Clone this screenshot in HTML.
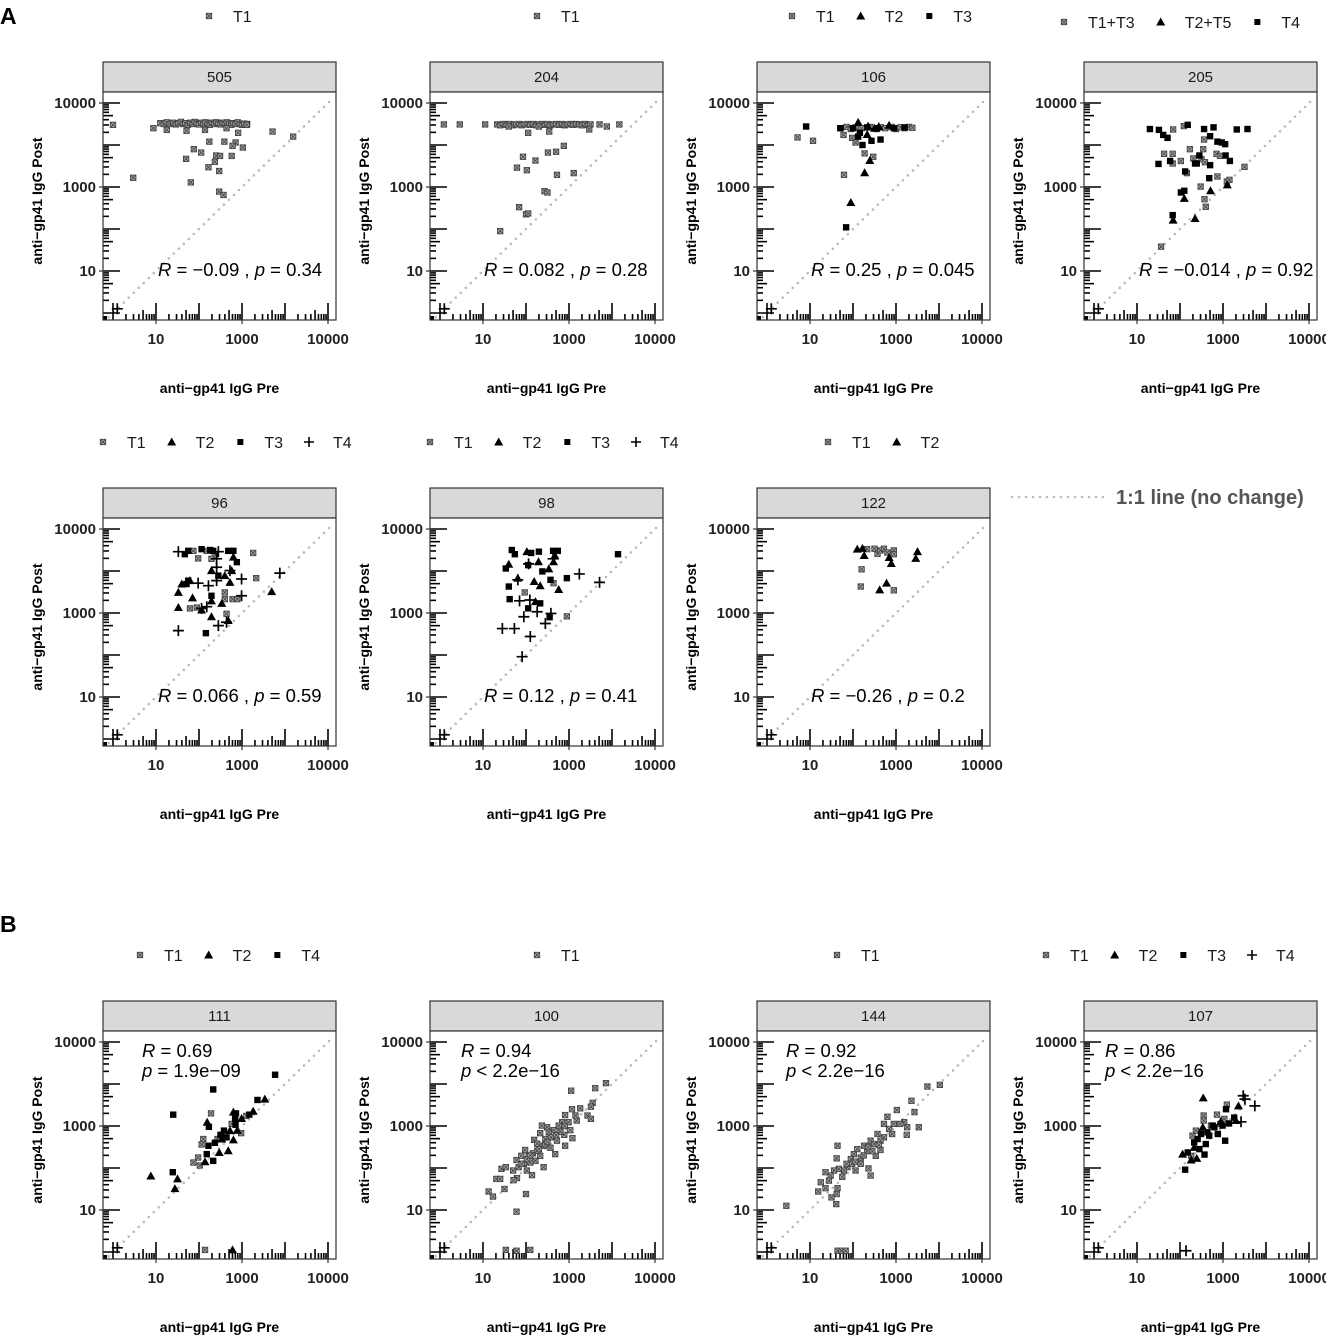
<!DOCTYPE html>
<html><head><meta charset="utf-8">
<style>
html,body{margin:0;padding:0;background:#fff;}
svg{display:block;font-family:"Liberation Sans",Arial,sans-serif;}
</style></head>
<body>
<svg id="fig" width="1326" height="1336" viewBox="0 0 1326 1336" xmlns="http://www.w3.org/2000/svg">
<text x="0" y="24" font-size="23" font-weight="bold">A</text>
<text x="0" y="932" font-size="23" font-weight="bold">B</text>
<g>
<line x1="1012" y1="497" x2="1106" y2="497" stroke="#bbb" stroke-width="2.6" stroke-linecap="round" stroke-dasharray="0 7"/>
<text x="1116" y="504" font-size="20" font-weight="bold" fill="#555">1:1 line (no change)</text>
</g>
</svg>
<script>
// ---- axis ticks (log units) ----
const xTickVals = [1, 3, 5];
const xTickLabels = ['10', '1000', '10000'];
const yTickVals = [1, 3, 5];
const yTickLabels = ['10', '1000', '10000'];
const cornerPoint = [0.1, 0.1];

// ---- data: [log pre, log post] ----
const d505_T1 = [[1.1,4.52],[1.18,4.5],[1.25,4.54],[1.32,4.5],[1.4,4.53],[1.46,4.49],[1.52,4.52],[1.58,4.55],[1.63,4.5],[1.68,4.52],[1.74,4.48],[1.8,4.53],[1.85,4.5],[1.9,4.55],[1.95,4.51],[2.0,4.49],[2.05,4.53],[2.1,4.5],[2.15,4.54],[2.2,4.51],[2.25,4.48],[2.3,4.53],[2.35,4.5],[2.4,4.54],[2.45,4.51],[2.5,4.49],[2.55,4.53],[2.6,4.5],[2.65,4.54],[2.7,4.51],[2.75,4.48],[2.8,4.52],[2.85,4.5],[2.9,4.54],[2.95,4.5],[3.0,4.48],[3.05,4.51],[3.12,4.5],[0.0,4.48],[0.94,4.4],[2.91,4.29],[3.71,4.32],[4.19,4.2],[2.24,4.08],[2.59,4.08],[2.85,4.06],[3.02,3.94],[2.78,3.98],[1.88,3.9],[2.05,3.82],[1.7,3.67],[2.4,3.75],[2.49,3.74],[2.37,3.6],[2.76,3.74],[2.22,3.47],[2.47,3.38],[0.47,3.22],[1.81,3.11],[2.47,2.89],[2.57,2.81],[1.25,4.36],[1.71,4.34],[2.14,4.36],[2.64,4.4],[3.11,4.48]];
const d204_T1 = [[0.09,4.49],[0.46,4.49],[1.05,4.49],[1.33,4.49],[1.4,4.47],[1.48,4.5],[1.55,4.48],[1.62,4.5],[1.7,4.47],[1.77,4.49],[1.84,4.5],[1.9,4.47],[1.97,4.49],[2.04,4.5],[2.1,4.48],[2.17,4.5],[2.24,4.47],[2.3,4.49],[2.37,4.5],[2.44,4.48],[2.5,4.5],[2.57,4.47],[2.64,4.49],[2.7,4.5],[2.77,4.48],[2.84,4.5],[2.9,4.47],[2.97,4.49],[3.04,4.5],[3.1,4.48],[3.17,4.5],[3.24,4.49],[3.3,4.47],[3.37,4.5],[3.44,4.48],[3.5,4.49],[3.71,4.49],[3.88,4.44],[4.17,4.49],[2.05,4.29],[2.54,4.32],[3.47,4.37],[2.88,3.98],[2.51,3.82],[2.7,3.84],[1.93,3.72],[2.22,3.63],[1.79,3.46],[2.02,3.4],[2.72,3.29],[3.11,3.33],[2.43,2.9],[2.5,2.87],[1.84,2.52],[2.0,2.35],[2.05,2.37],[1.4,1.95],[1.6,4.44],[2.3,4.44]];
const d106_T1 = [[0.71,4.18],[1.07,4.1],[1.78,4.24],[1.98,4.17],[2.06,4.06],[2.27,3.8],[2.47,3.72],[1.79,3.29],[1.7,4.4],[1.85,4.43],[1.95,4.38],[2.05,4.42],[2.2,4.4],[2.4,4.43],[2.55,4.38],[2.65,4.42],[2.75,4.4],[2.9,4.43],[3.0,4.38],[3.1,4.42],[3.2,4.4],[3.3,4.43],[3.38,4.41]];
const d106_T2 = [[2.33,4.25],[2.39,3.63],[2.27,3.34],[1.95,2.63],[2.12,4.54],[2.35,4.45],[2.84,4.47],[2.5,4.4],[2.6,4.44]];
const d106_T3 = [[0.91,4.44],[2.12,4.2],[2.43,4.1],[2.64,4.13],[2.22,4.0],[1.84,2.04],[1.71,4.4],[2.16,4.29],[2.33,4.42],[2.56,4.4],[2.0,4.4],[2.95,4.4],[3.2,4.42]];
const d205_T1 = [[1.84,4.37],[2.09,4.45],[1.63,3.79],[1.83,3.79],[2.23,3.9],[2.54,3.9],[2.56,4.13],[2.02,3.62],[1.83,3.56],[2.31,3.68],[2.5,3.66],[2.58,3.59],[2.85,3.79],[2.93,3.74],[2.87,3.25],[2.48,3.01],[3.09,3.13],[3.5,3.48],[2.16,3.33],[2.57,2.71],[2.6,2.53],[1.56,1.58],[3.15,3.17]];
const d205_T2 = [[2.1,2.73],[2.71,2.91],[3.1,3.05],[2.35,2.25],[1.84,2.21]];
const d205_T4 = [[1.3,4.38],[1.51,4.36],[1.61,4.24],[1.71,4.17],[2.18,4.48],[2.56,4.38],[2.78,4.42],[2.7,4.21],[2.87,4.08],[2.97,4.06],[3.05,4.02],[3.32,4.37],[3.57,4.38],[2.45,3.75],[3.06,3.75],[3.16,3.62],[1.5,3.55],[1.77,3.62],[2.35,3.56],[2.39,3.56],[2.7,3.52],[2.12,3.37],[2.68,3.21],[2.02,2.87],[2.1,2.91],[1.83,2.33]];
const d96_T1 = [[1.87,4.48],[1.98,4.3],[2.18,4.48],[2.37,4.39],[3.26,4.43],[3.33,3.83],[2.6,3.49],[2.6,3.33],[2.78,3.33],[2.89,3.33],[1.79,3.11],[1.95,3.13],[2.29,4.29],[2.64,2.98]];
const d96_T2 = [[1.6,3.69],[1.79,3.77],[2.29,4.01],[2.6,3.89],[2.76,4.01],[2.72,3.73],[1.52,3.49],[1.85,3.36],[2.06,3.07],[2.29,3.29],[2.53,3.23],[1.52,3.13],[2.29,2.91],[2.68,2.82],[3.69,3.51],[2.8,4.33]];
const d96_T3 = [[1.67,4.4],[1.75,4.48],[2.06,4.52],[2.26,4.5],[2.33,4.48],[2.68,4.48],[2.88,4.21],[2.45,3.89],[1.75,3.77],[1.71,3.69],[2.29,3.41],[2.16,2.52],[2.8,4.48]];
const d96_T4 = [[1.52,4.46],[2.45,4.46],[2.41,4.29],[2.41,4.09],[2.72,4.01],[2.99,3.81],[3.88,3.95],[1.98,3.71],[2.22,3.65],[2.41,3.77],[2.99,3.41],[2.18,3.15],[2.06,3.11],[2.45,2.7],[1.52,2.58],[2.64,2.78]];
const d98_T1 = [[2.64,3.71],[1.97,3.49],[2.95,2.92]];
const d98_T2 = [[2.02,4.46],[2.29,4.22],[2.64,4.22],[1.6,4.16],[1.81,3.83],[2.19,3.75],[2.33,3.65],[2.53,4.05],[2.76,3.56],[2.22,3.27],[2.67,4.37]];
const d98_T3 = [[1.67,4.5],[1.74,4.4],[2.12,4.43],[2.3,4.46],[2.63,4.48],[2.74,4.48],[1.53,4.06],[2.05,4.14],[2.38,3.99],[2.57,3.79],[2.95,3.83],[1.6,3.63],[1.62,3.33],[2.05,3.11],[2.33,3.23],[2.55,2.9],[4.14,4.4]];
const d98_T4 = [[2.06,4.17],[2.63,4.29],[1.81,3.79],[3.24,3.93],[3.71,3.73],[1.85,3.29],[2.09,3.31],[2.26,3.03],[1.95,2.91],[2.58,2.99],[2.45,2.75],[1.45,2.63],[1.73,2.63],[2.1,2.44],[1.91,1.96]];
const d122_T1 = [[2.33,4.52],[2.5,4.53],[2.57,4.41],[2.64,4.49],[2.72,4.53],[2.8,4.44],[2.95,4.49],[2.95,4.4],[2.2,4.04],[2.18,3.63],[2.95,3.54]];
const d122_T2 = [[2.1,4.52],[2.22,4.54],[2.26,4.37],[2.84,4.32],[2.89,4.18],[3.5,4.46],[3.46,4.3],[2.62,3.55],[2.78,3.71]];
const d111_T1 = [[2.28,3.3],[2.98,2.83],[2.1,2.69],[2.06,2.56],[1.98,2.25],[1.87,2.13],[2.02,2.06],[2.14,0.05],[2.76,3.05],[2.43,2.69],[3.1,3.24]];
const d111_T2 = [[3.53,3.64],[3.26,3.35],[2.99,3.18],[2.8,3.33],[2.19,3.09],[2.72,2.89],[2.8,2.67],[2.68,2.41],[2.47,2.37],[2.14,2.15],[0.88,1.81],[1.5,1.74],[1.44,1.51],[2.78,0.05],[2.53,2.69],[2.89,2.9]];
const d111_T4 = [[3.77,4.22],[2.33,3.87],[1.4,3.27],[3.36,3.62],[2.86,3.3],[2.84,3.17],[2.85,3.03],[2.58,2.89],[2.5,2.79],[2.37,2.6],[2.22,2.53],[2.18,2.33],[2.33,2.17],[1.39,1.9],[2.23,2.98],[3.17,3.27],[2.64,2.73]];
const d100_T1 = [[3.86,4.02],[3.61,3.9],[3.05,3.84],[3.55,3.55],[3.51,3.46],[3.26,3.42],[3.07,3.4],[3.43,3.25],[3.51,3.17],[2.91,3.26],[3.18,3.13],[2.99,3.09],[2.84,3.09],[3.03,2.9],[2.76,3.01],[2.64,2.9],[2.53,2.85],[2.33,2.83],[2.89,2.79],[3.08,2.71],[2.91,2.53],[2.72,2.65],[2.45,2.69],[2.19,2.67],[2.26,2.58],[2.41,2.53],[2.57,2.48],[2.68,2.33],[1.98,2.43],[2.06,2.29],[2.16,2.35],[2.33,2.29],[2.22,2.17],[2.1,2.13],[2.41,2.02],[1.95,2.1],[1.78,2.19],[2.02,1.94],[2.14,1.83],[1.83,2.02],[1.7,1.94],[1.43,1.98],[1.53,2.02],[1.79,1.76],[1.71,1.71],[1.31,1.74],[1.4,1.74],[1.5,1.5],[1.13,1.44],[1.23,1.32],[2.0,1.38],[1.78,0.96],[1.53,0.05],[1.78,0.03],[2.1,0.05],[2.45,2.56],[2.58,2.73],[2.8,2.86],[3.15,3.25],[1.89,2.29],[2.02,2.21],[2.26,2.41],[2.49,2.97],[2.37,3.01],[2.9,3.0],[2.7,2.78],[2.5,2.62],[2.3,2.45],[2.1,2.3],[1.9,2.1]];
const d144_T1 = [[4.02,3.98],[3.73,3.94],[3.36,3.6],[3.43,3.33],[3.02,3.38],[2.8,3.22],[3.19,3.09],[3.26,2.97],[3.53,2.97],[3.25,2.79],[2.95,3.05],[2.84,2.93],[2.72,2.73],[2.57,2.81],[2.41,2.65],[2.64,2.43],[2.53,2.29],[2.36,1.99],[2.41,1.82],[2.26,2.53],[2.1,2.45],[2.18,2.25],[2.02,2.33],[1.95,2.21],[2.06,1.94],[1.87,2.02],[1.79,1.94],[1.64,2.53],[1.62,2.23],[1.75,1.79],[1.67,1.98],[1.56,1.94],[1.48,1.82],[1.36,1.9],[1.44,1.7],[1.25,1.66],[1.36,1.52],[1.19,1.44],[1.64,1.52],[1.62,1.38],[1.5,1.3],[1.61,1.14],[0.45,1.1],[1.64,0.03],[1.73,0.03],[1.83,0.03],[2.33,2.41],[2.49,2.57],[2.18,2.1],[1.98,2.1],[2.64,2.65],[2.91,2.81],[3.1,3.05],[2.72,3.05],[2.45,2.4],[2.25,2.3],[2.05,2.15],[1.85,2.1],[2.6,2.55],[2.35,2.5]];
const d107_T1 = [[3.09,3.51],[2.86,3.27],[2.55,3.25],[2.55,3.13],[2.29,2.77],[2.37,2.89],[2.72,3.01],[2.94,3.05],[2.26,2.29],[3.03,3.17]];
const d107_T2 = [[2.54,3.67],[3.36,3.48],[2.06,2.33],[2.26,2.19],[2.39,2.23],[2.53,2.97],[2.95,3.11],[3.3,3.13],[2.33,2.49]];
const d107_T3 = [[3.07,3.4],[2.12,1.96],[3.05,2.65],[2.57,2.32],[2.76,3.01],[2.88,2.81],[2.99,3.01],[3.14,3.06],[3.26,3.2],[2.41,2.69],[2.6,2.57],[2.49,2.81],[2.68,2.77],[2.8,2.97],[2.33,2.61],[2.18,2.37],[2.45,2.45],[2.64,2.85]];
const d107_T4 = [[3.47,3.72],[3.51,3.64],[3.74,3.48],[3.42,3.1],[2.14,0.03]];

const svg = document.getElementById('fig');
const NS = 'http://www.w3.org/2000/svg';
function mk(tag, attrs, parent) {
  const e = document.createElementNS(NS, tag);
  for (const k in attrs) e.setAttribute(k, attrs[k]);
  (parent || svg).appendChild(e);
  return e;
}
function sym(g, shape, x, y) {
  if (shape === 'gray') {
    const s = mk('g', {}, g);
    mk('rect', {x: x-2.7, y: y-2.7, width: 5.4, height: 5.4, fill: '#a8a8a8', stroke: '#444', 'stroke-width': 0.9}, s);
    mk('path', {d: `M${x-2.7} ${y-2.7}L${x+2.7} ${y+2.7}M${x+2.7} ${y-2.7}L${x-2.7} ${y+2.7}`, stroke: '#444', 'stroke-width': 0.8}, s);
    return s;
  } else if (shape === 'tri') {
    return mk('polygon', {points: `${x},${y-4.5} ${x+4.5},${y+3.5} ${x-4.5},${y+3.5}`, fill: '#000'}, g);
  } else if (shape === 'sq') {
    return mk('rect', {x: x-3.2, y: y-3.2, width: 6.4, height: 6.4, fill: '#000'}, g);
  } else {
    return mk('path', {d: `M${x-5.5} ${y}H${x+5.5}M${x} ${y-5.5}V${y+5.5}`, stroke: '#000', 'stroke-width': 1.7}, g);
  }
}

const panels = [
  {id:'505', col:0,row:0, series:[['gray',d505_T1]], r:['−0.09','= 0.34'], rx:55, legend:{x:209,y:16,items:[['gray','T1']]}},
  {id:'204', col:1,row:0, series:[['gray',d204_T1]], r:['0.082','= 0.28'], rx:54, legend:{x:537,y:16,items:[['gray','T1']]}},
  {id:'106', col:2,row:0, series:[['gray',d106_T1],['tri',d106_T2],['sq',d106_T3]], r:['0.25','= 0.045'], rx:54, legend:{x:792,y:16,items:[['gray','T1'],['tri','T2'],['sq','T3']]}},
  {id:'205', col:3,row:0, series:[['gray',d205_T1],['tri',d205_T2],['sq',d205_T4]], r:['−0.014','= 0.92'], rx:55, legend:{x:1064,y:22,items:[['gray','T1+T3'],['tri','T2+T5'],['sq','T4']]}},
  {id:'96', col:0,row:1, series:[['gray',d96_T1],['tri',d96_T2],['sq',d96_T3],['plus',d96_T4]], r:['0.066','= 0.59'], rx:55, legend:{x:103,y:442,items:[['gray','T1'],['tri','T2'],['sq','T3'],['plus','T4']]}},
  {id:'98', col:1,row:1, series:[['gray',d98_T1],['tri',d98_T2],['sq',d98_T3],['plus',d98_T4]], r:['0.12','= 0.41'], rx:54, legend:{x:430,y:442,items:[['gray','T1'],['tri','T2'],['sq','T3'],['plus','T4']]}},
  {id:'122', col:2,row:1, series:[['gray',d122_T1],['tri',d122_T2]], r:['−0.26','= 0.2'], rx:54, legend:{x:828,y:442,items:[['gray','T1'],['tri','T2']]}},
  {id:'111', col:0,row:2, series:[['gray',d111_T1],['tri',d111_T2],['sq',d111_T4]], r2:['0.69','= 1.9e−09'], rx:39, legend:{x:140,y:955,items:[['gray','T1'],['tri','T2'],['sq','T4']]}},
  {id:'100', col:1,row:2, series:[['gray',d100_T1]], r2:['0.94','< 2.2e−16'], rx:31, legend:{x:537,y:955,items:[['gray','T1']]}},
  {id:'144', col:2,row:2, series:[['gray',d144_T1]], r2:['0.92','< 2.2e−16'], rx:29, legend:{x:837,y:955,items:[['gray','T1']]}},
  {id:'107', col:3,row:2, series:[['gray',d107_T1],['tri',d107_T2],['sq',d107_T3],['plus',d107_T4]], r2:['0.86','< 2.2e−16'], rx:21, legend:{x:1046,y:955,items:[['gray','T1'],['tri','T2'],['sq','T3'],['plus','T4']]}}
];
const rowTop = [92, 518, 1031];
const W = 233, H = 228;

panels.forEach(p => {
  const L = 103 + 327 * p.col, T = rowTop[p.row], B = T + H;
  const sx = u => L + 10 + 43 * u;
  const sy = u => T + 11 + (5 - u) * 42;
  const g = mk('g', {});
  
  

  const strip = mk('g', {}, g);
  
  
  mk('rect', {x: L, y: T - 30, width: W, height: 30, fill: '#d9d9d9', stroke: '#333', 'stroke-width': 1.2}, strip);
  const st = mk('text', {x: L + W/2, y: T - 10, 'font-size': 15, 'text-anchor': 'middle', fill: '#1a1a1a'}, strip);
  st.textContent = p.id;

  const cp = mk('clipPath', {id: 'clip' + p.id}, g);
  mk('rect', {x: L, y: T, width: W, height: H}, cp);
  mk('rect', {x: L, y: T, width: W, height: H, fill: '#fff'}, g);
  const inner = mk('g', {'clip-path': 'url(#clip' + p.id + ')'}, g);

  const ref = mk('line', {x1: sx(-0.1), y1: sy(-0.1), x2: sx(5.05), y2: sy(5.05), stroke: '#bbb', 'stroke-width': 2.6, 'stroke-linecap': 'round', 'stroke-dasharray': '0 7'}, inner);
  
  

  const ticks = mk('g', {stroke: '#000', 'stroke-width': 1.6}, inner);
  
  
  for (let d = 0; d <= 5; d++) {
    for (let k = 1; k <= 9; k++) {
      const u = d + Math.log10(k);
      if (u > 5.2) continue;
      const len = k === 1 ? 17 : (k === 5 ? 10 : 6);
      mk('line', {x1: sx(u), y1: B, x2: sx(u), y2: B - len}, ticks);
      mk('line', {x1: L, y1: sy(u), x2: L + len, y2: sy(u)}, ticks);
    }
  }
  mk('rect', {x: L, y: B - 4, width: 4, height: 4, fill: '#000', stroke: 'none'}, ticks);

  p.series.forEach(([shape, arr]) => {
    const sg = mk('g', {}, inner);
    
    
    arr.forEach(([a, b]) => {
      const pt = sym(sg, shape, sx(a), sy(b));
      
      
    });
  });
  const cpt = sym(inner, 'plus', sx(cornerPoint[0]), sy(cornerPoint[1]));
  
  

  const rt = mk('text', {'font-size': 18.5, fill: '#000'}, inner);
  
  
  if (p.r) {
    rt.setAttribute('x', L + p.rx); rt.setAttribute('y', T + 184);
    rt.innerHTML = '<tspan font-style="italic">R</tspan> = ' + p.r[0] + ' , <tspan font-style="italic">p</tspan> ' + p.r[1];
  } else {
    rt.setAttribute('x', L + p.rx); rt.setAttribute('y', T + 26);
    rt.innerHTML = '<tspan font-style="italic">R</tspan> = ' + p.r2[0];
    const rt2 = mk('text', {x: L + p.rx, y: T + 46, 'font-size': 18.5, fill: '#000'}, inner);
    
    
    rt2.innerHTML = '<tspan font-style="italic">p</tspan> ' + p.r2[1];
  }

  mk('rect', {x: L, y: T, width: W, height: H, fill: 'none', stroke: '#333', 'stroke-width': 1.2}, g);

  const xa = mk('g', {}, g);
  
  
  xTickVals.forEach((v, i) => {
    mk('line', {x1: sx(v), y1: B, x2: sx(v), y2: B + 4, stroke: '#333', 'stroke-width': 1.2}, xa);
    const t = mk('text', {x: sx(v), y: B + 24, 'font-size': 15, 'font-weight': 'bold', 'text-anchor': 'middle', fill: '#222'}, xa);
    t.textContent = xTickLabels[i];
  });
  const ya = mk('g', {}, g);
  
  
  yTickVals.forEach((v, i) => {
    mk('line', {x1: L - 4, y1: sy(v), x2: L, y2: sy(v), stroke: '#333', 'stroke-width': 1.2}, ya);
    const t = mk('text', {x: L - 7, y: sy(v) + 5, 'font-size': 15, 'font-weight': 'bold', 'text-anchor': 'end', fill: '#222'}, ya);
    t.textContent = yTickLabels[i];
  });
  const xt = mk('text', {x: L + W/2, y: B + 73, 'font-size': 14, 'font-weight': 'bold', 'text-anchor': 'middle'}, g);
  
  
  xt.textContent = 'anti−gp41 IgG Pre';
  const cy = T + H/2 - 5;
  const yt = mk('text', {x: L - 61, y: cy, 'font-size': 14, 'font-weight': 'bold', 'text-anchor': 'middle', transform: `rotate(-90 ${L-61} ${cy})`}, g);
  
  
  yt.textContent = 'anti−gp41 IgG Post';

  const lg = mk('g', {}, g);
  
  
  let lx = p.legend.x;
  p.legend.items.forEach(([shape, label]) => {
    const e = mk('g', {}, lg);
    
    
    if (shape === 'gray') sym(e, shape, lx, p.legend.y);
    else if (shape === 'tri') mk('polygon', {points: `${lx},${p.legend.y-4.5} ${lx+4.5},${p.legend.y+3.5} ${lx-4.5},${p.legend.y+3.5}`, fill: '#000'}, e);
    else if (shape === 'sq') mk('rect', {x: lx-3, y: p.legend.y-3, width: 6, height: 6, fill: '#000'}, e);
    else mk('path', {d: `M${lx-5} ${p.legend.y}H${lx+5}M${lx} ${p.legend.y-5}V${p.legend.y+5}`, stroke: '#000', 'stroke-width': 1.6}, e);
    const t = mk('text', {x: lx + 24, y: p.legend.y + 6, 'font-size': 16, fill: '#1a1a1a'}, e);
    t.textContent = label;
    const w = t.getComputedTextLength ? t.getComputedTextLength() : label.length * 9;
    lx = lx + 24 + w + 26;
  });
});
</script>
</body></html>
